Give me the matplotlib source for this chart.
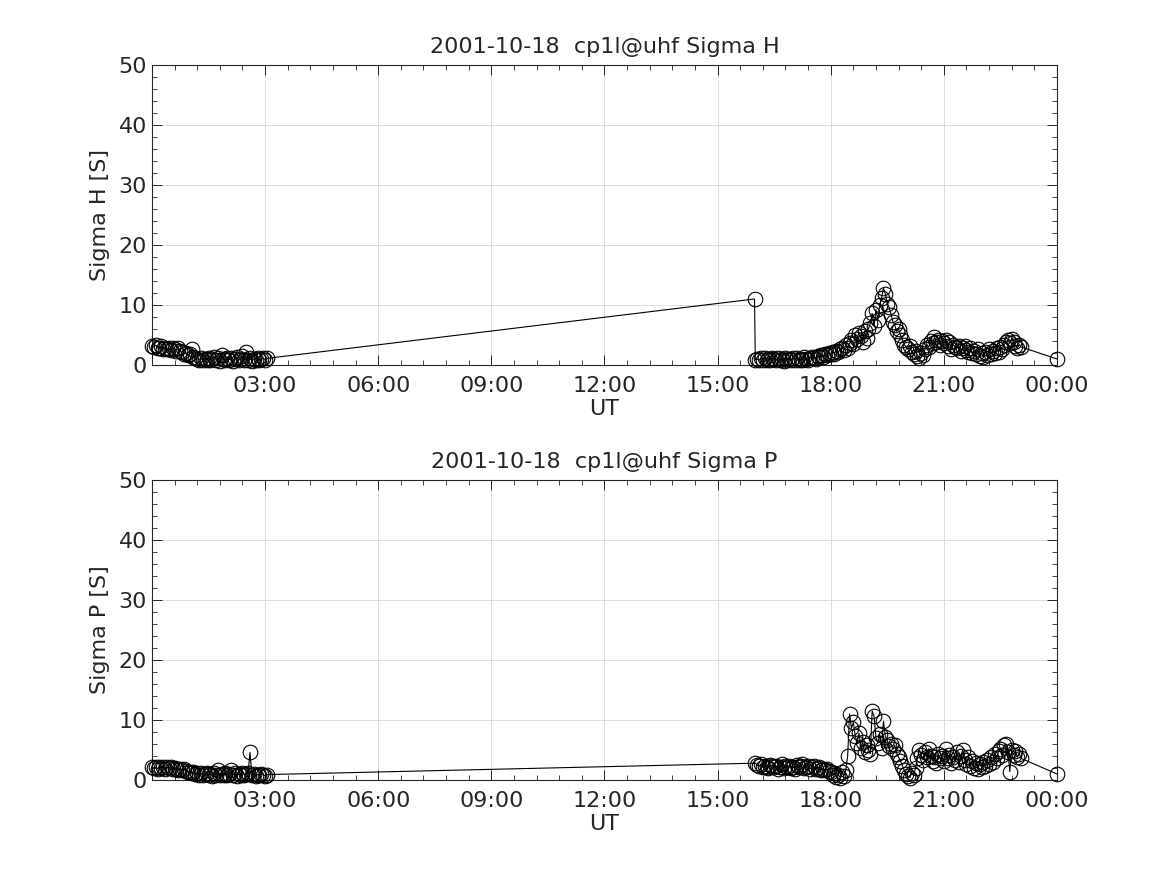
import numpy as np
import matplotlib
matplotlib.use("Agg")
import matplotlib.pyplot as plt
from matplotlib.ticker import MultipleLocator

# sampling: 3 minute records, hours UT
dt = 0.05

# Sigma H
h_seg1_start = 0.0
h_seg1 = [3.2, 3.0, 3.3, 2.9, 2.8, 3.1, 2.7, 2.9, 2.6, 2.8, 2.5, 2.9, 2.7, 2.4, 2.8, 2.3, 2.1, 1.8, 2.0, 1.6,
          1.9, 2.6, 1.4, 1.2, 1.0, 0.9, 1.1, 0.8, 1.0, 0.9, 1.2, 0.8, 1.0, 1.3, 0.9, 1.1, 0.7, 1.6, 1.0, 0.8,
          1.2, 0.9, 1.1, 0.7, 1.0, 1.3, 0.8, 1.0, 1.5, 0.9, 2.2, 0.8, 1.1, 0.7, 1.0, 0.9, 1.2, 0.8, 1.0, 1.1,
          0.9, 1.1]
h_gap_t = [15.98]
h_gap_v = [11.0]
h_seg2_start = 16.0
h_seg2 = [0.9, 1.0, 0.8, 1.1, 0.9, 1.2, 0.8, 1.0, 0.9, 1.1, 1.0, 0.8, 1.2, 0.9, 1.0, 0.7, 1.1, 0.9, 1.0, 0.8,
          1.1, 0.9, 1.2, 0.8, 1.0, 0.9, 1.3, 1.0, 0.8, 1.1, 1.4, 1.2, 1.0, 1.5, 1.3, 1.7, 1.4, 1.9, 1.6, 2.0,
          1.8, 2.2, 1.9, 2.4, 2.1, 2.6, 2.9, 2.5, 3.3, 2.8, 3.6, 4.2, 3.5, 5.0, 4.4, 5.4, 4.8, 3.8, 5.6, 4.5,
          6.0, 7.0, 8.6, 6.5, 9.2, 7.5, 10.0, 11.2, 12.8, 11.8, 10.2, 9.6, 8.4, 7.2, 6.6, 5.6, 6.0, 5.0, 4.2, 3.4,
          3.0, 2.6, 3.2, 2.2, 1.8, 2.4, 1.5, 1.2, 2.0, 1.6, 2.6, 3.4, 3.0, 4.0, 3.6, 4.6, 3.8, 4.2, 3.4, 4.0,
          3.6, 4.2, 3.2, 3.8, 2.6, 3.4, 3.0, 2.8, 3.2, 2.4, 2.9, 3.1, 2.5, 2.2, 2.8, 2.0, 2.4, 1.8, 2.6, 1.5,
          2.0, 1.3, 2.2, 1.6, 2.6, 1.8, 2.4, 2.0, 2.8, 2.2, 3.0, 2.6, 3.4, 3.8, 4.2, 3.6, 4.4, 3.8, 3.2, 2.8,
          3.4, 3.0]
h_end_t = [24.0]
h_end_v = [1.0]

# Sigma P
p_seg1_start = 0.0
p_seg1 = [2.1, 2.0, 2.2, 1.9, 2.1, 2.0, 2.2, 1.9, 2.1, 2.0, 2.1, 1.8, 2.0, 1.9, 1.7, 1.9, 1.6, 1.8, 1.5, 1.4,
          1.3, 1.1, 1.4, 1.0, 1.2, 0.9, 1.1, 0.8, 1.0, 1.2, 0.9, 1.0, 0.7, 1.1, 0.9, 1.6, 0.8, 1.0, 0.9, 1.1,
          0.8, 1.0, 1.6, 0.9, 1.1, 0.7, 1.0, 0.8, 1.2, 0.9, 1.0, 1.1, 4.6, 0.8, 1.0, 0.7, 0.9, 0.8, 1.0, 0.9,
          0.7, 0.9]
p_gap_t = []
p_gap_v = []
p_seg2_start = 16.0
p_seg2 = [2.8, 2.5, 2.3, 2.6, 2.1, 2.4, 2.2, 2.0, 2.5, 2.3, 2.1, 2.4, 1.9, 2.2, 2.6, 2.0, 2.3, 2.1, 2.4, 2.0,
          2.2, 1.9, 2.5, 2.1, 2.3, 2.7, 2.0, 2.2, 2.4, 1.9, 2.1, 2.3, 1.8, 2.0, 2.2, 1.7, 1.9, 1.6, 1.8, 1.5,
          1.3, 0.8, 1.1, 0.5, 0.9, 0.4, 1.4, 0.7, 1.6, 4.0, 11.0, 8.6, 9.6, 7.4, 6.2, 7.8, 5.4, 6.4, 4.6, 5.8,
          5.0, 4.4, 11.5, 10.6, 7.0, 6.2, 7.6, 5.4, 9.8, 7.2, 6.6, 5.6, 6.0, 5.2, 5.8, 4.4, 3.8, 3.2, 2.4, 1.6,
          1.0, 0.6, 0.4, 1.2, 0.8, 2.0, 3.6, 5.0, 4.2, 3.4, 4.6, 3.8, 5.2, 4.0, 3.2, 3.8, 2.8, 4.4, 3.6, 4.0,
          3.2, 5.2, 3.6, 4.2, 2.8, 3.8, 3.4, 4.6, 3.0, 4.0, 5.0, 3.4, 2.6, 3.8, 2.4, 3.2, 2.0, 2.8, 1.8, 2.6,
          2.2, 3.0, 2.4, 3.4, 2.6, 3.8, 3.0, 4.4, 3.6, 4.8, 5.2, 4.2, 5.8, 6.0, 4.6, 1.4, 5.0, 4.2, 4.8, 3.8,
          4.4, 3.6]
p_end_t = [24.0]
p_end_v = [1.0]

xtick_hours = [3, 6, 9, 12, 15, 18, 21, 24]
xtick_labels = ["03:00", "06:00", "09:00", "12:00", "15:00", "18:00", "21:00", "00:00"]

date_str = "2001-10-18"
exp_str = "cp1l@uhf"
txt = "#262626"


def build(s1_start, s1, gap_t, gap_v, s2_start, s2, end_t, end_v):
    t1 = s1_start + dt * np.arange(len(s1))
    t2 = s2_start + dt * np.arange(len(s2))
    t = np.concatenate([t1, gap_t, t2, end_t])
    v = np.concatenate([s1, gap_v, s2, end_v])
    return t, v


def draw(ax, t, v, name):
    ax.plot(t, v, color="k", lw=0.8, marker="o", ms=10.5, mfc="none", mec="k", mew=0.8,
            clip_on=False, zorder=3)
    ax.set_xlim(0, 24)
    ax.set_ylim(0, 50)
    ax.set_xticks(xtick_hours)
    ax.set_xticklabels(xtick_labels)
    ax.xaxis.set_minor_locator(MultipleLocator(0.6))
    ax.set_yticks([0, 10, 20, 30, 40, 50])
    ax.yaxis.set_minor_locator(MultipleLocator(2))
    ax.tick_params(which="both", direction="in", top=True, right=True, colors=txt, labelsize=16)
    ax.tick_params(which="major", length=7, width=0.7)
    ax.tick_params(axis="x", which="major", pad=8)
    ax.tick_params(which="minor", length=3.5, width=0.6)
    ax.grid(True, which="major", color="#dcdcdc", lw=0.7)
    ax.set_axisbelow(True)
    for s in ax.spines.values():
        s.set_color(txt)
        s.set_linewidth(0.8)
    ax.set_xlabel("UT", fontsize=16, color=txt, labelpad=2)
    ax.set_ylabel(f"{name} [S]", fontsize=16, color=txt, labelpad=6)
    ax.set_title(f"{date_str}  {exp_str} {name}", fontsize=16, color=txt, pad=9)


fig = plt.figure(figsize=(11.67, 8.75), dpi=100)
ax1 = fig.add_axes([0.1302, 0.5829, 0.7755, 0.3428])
ax2 = fig.add_axes([0.1302, 0.1086, 0.7755, 0.3428])

draw(ax1, *build(h_seg1_start, h_seg1, h_gap_t, h_gap_v, h_seg2_start, h_seg2, h_end_t, h_end_v), "Sigma H")
draw(ax2, *build(p_seg1_start, p_seg1, p_gap_t, p_gap_v, p_seg2_start, p_seg2, p_end_t, p_end_v), "Sigma P")

fig.savefig("out.png", dpi=100)
